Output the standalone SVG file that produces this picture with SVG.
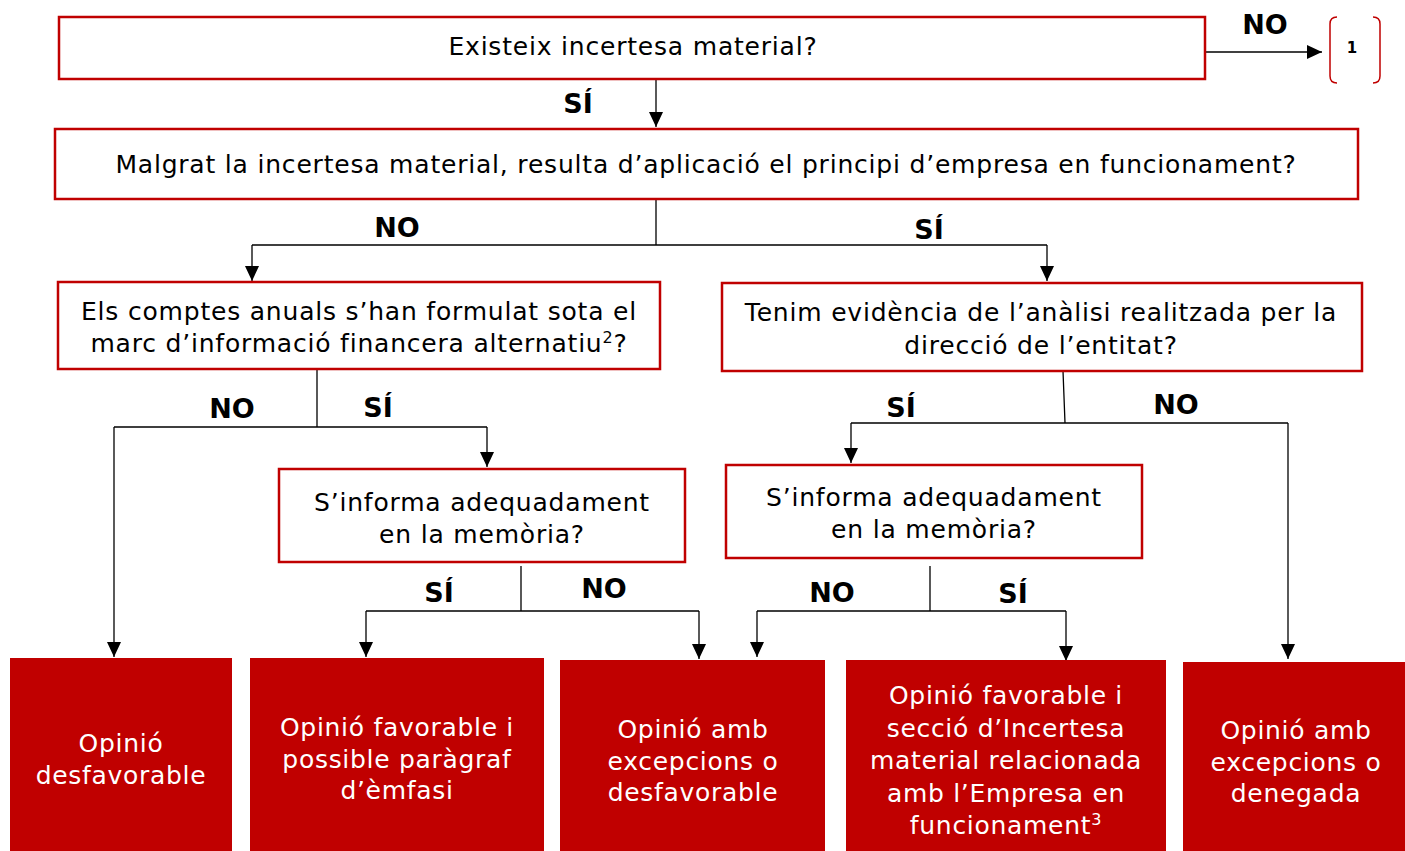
<svg xmlns="http://www.w3.org/2000/svg" width="1405" height="851" viewBox="0 0 1405 851">
<defs>
<marker id="ah" markerWidth="18" markerHeight="18" refX="15" refY="7" orient="auto" markerUnits="userSpaceOnUse">
<path d="M0,0 L15,7 L0,14 Z" fill="#000"/>
</marker>
<style>
.q{fill:#fff;stroke:#C00000;stroke-width:2.5}
.r{fill:#C00000;stroke:none}
.qt{font-family:"DejaVu Sans",Verdana,sans-serif;font-size:25px;letter-spacing:0.8px;fill:#000;text-anchor:middle}
.rt{font-family:"DejaVu Sans",Verdana,sans-serif;font-size:25px;letter-spacing:0.7px;fill:#fff;text-anchor:middle}
.lb{font-family:"DejaVu Sans",Verdana,sans-serif;font-size:27px;font-weight:bold;fill:#000;text-anchor:middle}
.c{fill:none;stroke:#000;stroke-width:1.3}
.ca{fill:none;stroke:#000;stroke-width:1.3;marker-end:url(#ah)}
</style>
</defs>
<rect width="1405" height="851" fill="#fff"/>

<g id="connectors">
<path class="ca" d="M1205,52 H1322"/>
<path class="ca" d="M656,79 V127"/>
<path class="c" d="M656,199 V245 M252,245 H1047"/>
<path class="ca" d="M252,245 V281"/>
<path class="ca" d="M1047,245 V281"/>
<path class="c" d="M317,369 V427 M114,427 H487"/>
<path class="ca" d="M114,427 V657"/>
<path class="ca" d="M487,427 V467"/>
<path class="c" d="M521,566 V611 M366,611 H699"/>
<path class="ca" d="M366,611 V657"/>
<path class="ca" d="M699,611 V659"/>
<path class="c" d="M1063,371 L1065,423 M851,423 H1288"/>
<path class="ca" d="M851,423 V463"/>
<path class="ca" d="M1288,423 V659"/>
<path class="c" d="M930,566 V611 M757,611 H1066"/>
<path class="ca" d="M757,611 V657"/>
<path class="ca" d="M1066,611 V661"/>
<text class="lb" x="1265" y="34">NO</text>
<text class="lb" x="578" y="113">SÍ</text>
<text class="lb" x="397" y="237">NO</text>
<text class="lb" x="929" y="239">SÍ</text>
<text class="lb" x="232" y="418">NO</text>
<text class="lb" x="378" y="417">SÍ</text>
<text class="lb" x="901" y="417">SÍ</text>
<text class="lb" x="1176" y="414">NO</text>
<text class="lb" x="439" y="602">SÍ</text>
<text class="lb" x="604" y="598">NO</text>
<text class="lb" x="832" y="602">NO</text>
<text class="lb" x="1013" y="603">SÍ</text>
</g>

<g id="q1">
<rect class="q" x="59" y="17" width="1146" height="62"/>
<text class="qt" x="633" y="55">Existeix incertesa material?</text>
</g>
<g id="ref1">
<path d="M1337,17 Q1330,17 1330,24 V76 Q1330,83 1337,83 M1373,17 Q1380,17 1380,24 V76 Q1380,83 1373,83" fill="none" stroke="#C00000" stroke-width="1.5"/>
<text x="1352" y="53" font-family="DejaVu Sans,Verdana,sans-serif" font-size="15" font-weight="bold" text-anchor="middle">1</text>
</g>
<g id="q2">
<rect class="q" x="55" y="129" width="1303" height="70"/>
<text class="qt" x="706" y="173">Malgrat la incertesa material, resulta d’aplicació el principi d’empresa en funcionament?</text>
</g>
<g id="q3">
<rect class="q" x="58" y="282" width="602" height="87"/>
<text class="qt" x="359" y="320">Els comptes anuals s’han formulat sota el</text>
<text class="qt" x="359" y="352">marc d’informació financera alternatiu<tspan font-size="16" dy="-9">2</tspan><tspan dy="9">?</tspan></text>
</g>
<g id="q4">
<rect class="q" x="722" y="283" width="640" height="88"/>
<text class="qt" x="1041" y="321">Tenim evidència de l’anàlisi realitzada per la</text>
<text class="qt" x="1041" y="354">direcció de l’entitat?</text>
</g>
<g id="q5">
<rect class="q" x="279" y="469" width="406" height="93"/>
<text class="qt" x="482" y="511">S’informa adequadament</text>
<text class="qt" x="482" y="543">en la memòria?</text>
</g>
<g id="q6">
<rect class="q" x="726" y="465" width="416" height="93"/>
<text class="qt" x="934" y="506">S’informa adequadament</text>
<text class="qt" x="934" y="538">en la memòria?</text>
</g>
<g id="r1">
<rect class="r" x="10" y="658" width="222" height="193"/>
<text class="rt" x="121" y="752">Opinió</text>
<text class="rt" x="121" y="784">desfavorable</text>
</g>
<g id="r2">
<rect class="r" x="250" y="658" width="294" height="193"/>
<text class="rt" x="397" y="736">Opinió favorable i</text>
<text class="rt" x="397" y="768">possible paràgraf</text>
<text class="rt" x="397" y="799">d’èmfasi</text>
</g>
<g id="r3">
<rect class="r" x="560" y="660" width="265" height="191"/>
<text class="rt" x="693" y="738">Opinió amb</text>
<text class="rt" x="693" y="770">excepcions o</text>
<text class="rt" x="693" y="801">desfavorable</text>
</g>
<g id="r4">
<rect class="r" x="846" y="660" width="320" height="191"/>
<text class="rt" x="1006" y="704">Opinió favorable i</text>
<text class="rt" x="1006" y="737">secció d’Incertesa</text>
<text class="rt" x="1006" y="769">material relacionada</text>
<text class="rt" x="1006" y="802">amb l’Empresa en</text>
<text class="rt" x="1006" y="834">funcionament<tspan font-size="16" dy="-9">3</tspan></text>
</g>
<g id="r5">
<rect class="r" x="1183" y="662" width="222" height="189"/>
<text class="rt" x="1296" y="739">Opinió amb</text>
<text class="rt" x="1296" y="771">excepcions o</text>
<text class="rt" x="1296" y="802">denegada</text>
</g>
</svg>
